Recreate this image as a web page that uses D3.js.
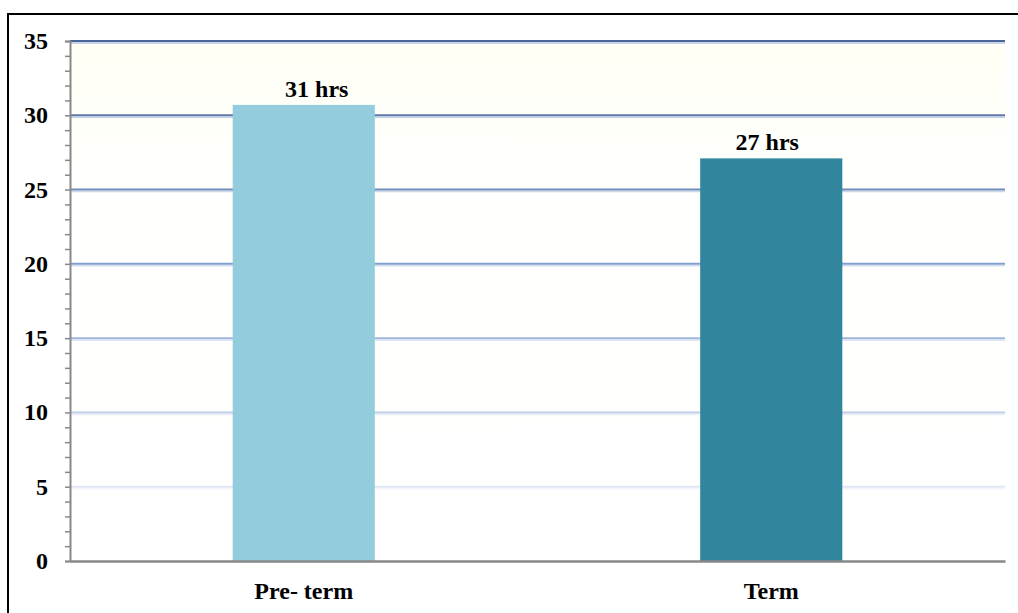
<!DOCTYPE html>
<html><head><meta charset="utf-8">
<script src="https://cdn.jsdelivr.net/npm/d3@7"></script>
<style>body{margin:0;background:#fff}svg{display:block}</style>
</head><body><svg id="c" width="1018" height="613"></svg>
<script>
const categories = ["Pre- term", "Term"];
const values = [30.7, 27.1];
const valueLabels = ["31 hrs", "27 hrs"];
const barColors = ["#93CDDD", "#31859C"];
const yTicks = [0, 5, 10, 15, 20, 25, 30, 35];

const svg = d3.select("#c");
const m = {left: 70, right: 1005, top: 41, bottom: 561};
const font = "'Liberation Serif','Times New Roman',serif";

// outer frame
svg.append("rect").attr("x", 8).attr("y", 14).attr("width", 1020).attr("height", 620)
  .attr("fill", "none").attr("stroke", "#000").attr("stroke-width", 2);

const y = d3.scaleLinear().domain([0, 35]).range([m.bottom, m.top]);
const x = d3.scaleBand().domain(categories).range([m.left, m.right]).padding(0);

// plot background faint gradient
const defs = svg.append("defs");
const g = defs.append("linearGradient").attr("id", "bg").attr("x1", 0).attr("y1", 0).attr("x2", 0).attr("y2", 1);
g.append("stop").attr("offset", "0%").attr("stop-color", "#fffff5");
g.append("stop").attr("offset", "25%").attr("stop-color", "#fffffd");
g.append("stop").attr("offset", "100%").attr("stop-color", "#ffffff");
svg.append("rect").attr("x", m.left).attr("y", m.top).attr("width", m.right - m.left)
  .attr("height", m.bottom - m.top).attr("fill", "url(#bg)");

// gridlines with gradient colours
const gridCol = d3.scaleLinear().domain([5, 20, 35]).range(["#dfe6f3", "#7f9fd0", "#4a6597"]);
const gridLight = d3.scaleLinear().domain([5, 35]).range(["#f2f5fb", "#b9c8e2"]);
yTicks.filter(t => t > 0).forEach(t => {
  svg.append("line").attr("x1", m.left).attr("x2", m.right).attr("y1", y(t) + 2).attr("y2", y(t) + 2)
    .attr("stroke", gridLight(t)).attr("stroke-width", 1.5);
  svg.append("line").attr("x1", m.left).attr("x2", m.right).attr("y1", y(t)).attr("y2", y(t))
    .attr("stroke", gridCol(t)).attr("stroke-width", 2);
});

// bars
const bw = x.bandwidth() * 0.304;
svg.selectAll("rect.bar").data(values).enter().append("rect").attr("class", "bar")
  .attr("x", (d, i) => x(categories[i]) + x.bandwidth() / 2 - bw / 2)
  .attr("y", d => y(d)).attr("width", bw).attr("height", d => y(0) - y(d))
  .attr("fill", (d, i) => barColors[i]);

// value labels
svg.selectAll("text.val").data(values).enter().append("text").attr("class", "val")
  .attr("x", (d, i) => x(categories[i]) + x.bandwidth() / 2 + (i === 0 ? 13 : -4))
  .attr("y", d => y(d) - 8).attr("text-anchor", "middle")
  .attr("font-family", font).attr("font-weight", "bold").attr("font-size", 24)
  .text((d, i) => valueLabels[i]);

// y axis
const yAxis = svg.append("g").attr("transform", `translate(${m.left},0)`)
  .call(d3.axisLeft(y).tickValues(d3.range(0, 36, 1)).tickSize(5).tickFormat(""));
yAxis.select(".domain").attr("stroke", "#888").attr("stroke-width", 2);
yAxis.selectAll(".tick line").attr("stroke", "#888").attr("stroke-width", 1.5);
svg.append("g").selectAll("text").data(yTicks).enter().append("text")
  .attr("x", 48).attr("y", d => y(d) + 8).attr("text-anchor", "end")
  .attr("font-family", font).attr("font-weight", "bold").attr("font-size", 24)
  .text(d => d);

// x axis
const xAxis = svg.append("g").attr("transform", `translate(0,${m.bottom})`)
  .call(d3.axisBottom(x).tickSize(0).tickFormat(""));
xAxis.select(".domain").attr("stroke", "#888").attr("stroke-width", 2.5);
svg.append("g").selectAll("text").data(categories).enter().append("text")
  .attr("x", d => x(d) + x.bandwidth() / 2).attr("y", 599).attr("text-anchor", "middle")
  .attr("font-family", font).attr("font-weight", "bold").attr("font-size", 24)
  .text(d => d);
</script></body></html>
